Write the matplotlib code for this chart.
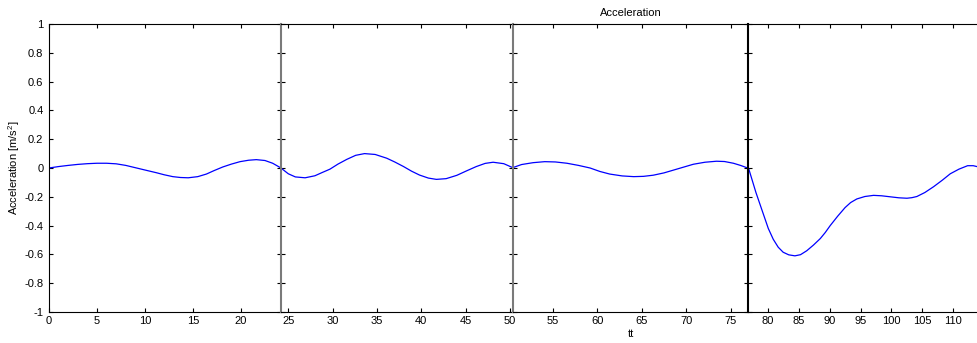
import numpy as np
import matplotlib.pyplot as plt

plt.rcParams['font.family'] = ['Liberation Sans', 'DejaVu Sans']
plt.rcParams['mathtext.fontset'] = 'custom'
plt.rcParams['mathtext.rm'] = 'Liberation Sans'
plt.rcParams['font.size'] = 8

# acceleration trace over time (tt), four runs joined end to end
tt = [0, 1, 2, 3, 4, 5, 6, 7, 8, 9, 9.5, 10, 11.2, 12, 12.9, 13.7, 14.5, 15.5,
      16.4, 17.2, 18.1, 19, 19.9, 20.8, 21.6, 22.5, 23.3, 24.17,
      25, 25.8, 26.9, 28, 28.8, 29.7, 30.6, 31.6, 32.6, 33.6, 34.8, 36.1, 37, 38,
      38.9, 39.8, 40.8, 41.7, 42.8, 44, 45.1, 46.2, 47.2, 48.1, 49.3, 50.4,
      51.5, 52.8, 54.1, 55.3, 56.6, 57.9, 59.2, 60.3, 61.4, 62.8, 64.1, 65.2,
      66.3, 67.5, 68.6, 69.7, 70.8, 72.1, 73.4, 74.3, 75.3, 76.1, 76.9,
      78.1, 79.3, 80.1, 80.9, 81.7, 82.5, 83.4, 84.4, 85.3, 86.3, 87.4, 88.5,
      89.3, 90.1, 91.3, 92.5, 93.4, 94.4, 95.7, 97.1, 98.4, 99.8, 101.2, 102.5,
      103.3, 104.1, 105.4, 106.8, 108.2, 109.5, 110.9, 112.3, 113.2, 113.9, 114.3]
acc = [0, 0.01, 0.018, 0.025, 0.03, 0.033, 0.033, 0.029, 0.018, 0.002, -0.006,
       -0.014, -0.033, -0.047, -0.06, -0.066, -0.068, -0.06,
       -0.042, -0.018, 0.007, 0.027, 0.044, 0.054, 0.058, 0.052, 0.033, 0,
       -0.04, -0.062, -0.068, -0.054, -0.032, -0.008, 0.027, 0.06, 0.088, 0.1,
       0.094, 0.068, 0.042, 0.01,
       -0.022, -0.049, -0.07, -0.079, -0.074, -0.051, -0.02, 0.01, 0.032, 0.04,
       0.03, 0,
       0.024, 0.037, 0.044, 0.042, 0.033, 0.018, 0, -0.024, -0.042, -0.055,
       -0.06, -0.058, -0.05, -0.034, -0.014, 0.006, 0.026, 0.04, 0.047, 0.045,
       0.033, 0.018, 0,
       -0.17, -0.32, -0.42, -0.495, -0.55, -0.585, -0.603, -0.61, -0.602, -0.575,
       -0.535, -0.49, -0.448, -0.4, -0.335, -0.275, -0.24, -0.215, -0.198, -0.19,
       -0.193, -0.2, -0.207, -0.21, -0.206, -0.198, -0.17, -0.13, -0.085, -0.04,
       -0.008, 0.016, 0.016, 0.009, 0.004]

# each panel: (left px, width px, x limits, x ticks)
panels = [
    (49, 232, (0, 24.17), [0, 5, 10, 15, 20]),
    (281, 232, (24.18, 50.34), [25, 30, 35, 40, 45, 50]),
    (513, 235, (50.54, 76.94), [55, 60, 65, 70, 75]),
    (748, 232, (76.82, 114.3), [80, 85, 90, 95, 100, 105, 110]),
]
edge_colors = ['black', '#7a7a7a', '#7a7a7a', 'black']
yticks = [-1, -0.8, -0.6, -0.4, -0.2, 0, 0.2, 0.4, 0.6, 0.8, 1]

W, H = 977, 343
fig = plt.figure(figsize=(W / 100, H / 100), dpi=100)
bottom, top = 312, 24

axes = []
for i, (left, width, xlim, xt) in enumerate(panels):
    ax = fig.add_axes([left / W, (H - bottom) / H, width / W, (bottom - top) / H])
    ax.plot(tt, acc, color='#0000ff', lw=0.9)
    ax.set_xlim(*xlim)
    ax.set_ylim(-1, 1)
    ax.set_xticks(xt)
    ax.set_yticks(yticks)
    ax.tick_params(axis='x', direction='in', top=True, length=3, width=0.8,
                   pad=3, labelsize=8)
    ax.spines['right'].set_visible(False)
    for s in ('top', 'bottom'):
        ax.spines[s].set_linewidth(0.8)
    ax.spines['left'].set_color(edge_colors[i])
    if i == 0:
        ax.spines['left'].set_linewidth(0.8)
        ax.tick_params(axis='y', direction='in', length=3, width=0.8, pad=4,
                       labelsize=8)
        ax.set_yticklabels(['-1', '-0.8', '-0.6', '-0.4', '-0.2', '0',
                            '0.2', '0.4', '0.6', '0.8', '1'])
        ax.set_ylabel('Acceleration [m/s$^2$]', fontsize=8)
        ax.yaxis.set_label_coords(-0.115, 0.5)
    else:
        ax.spines['left'].set_linewidth(1.5)
        ax.tick_params(axis='y', direction='inout', length=6, width=0.8,
                       labelleft=False)
    axes.append(ax)

axes[2].set_title('Acceleration', fontsize=8, pad=5.5)
axes[2].set_xlabel('tt', fontsize=8, labelpad=2)

fig.savefig('out.png', dpi=100)
